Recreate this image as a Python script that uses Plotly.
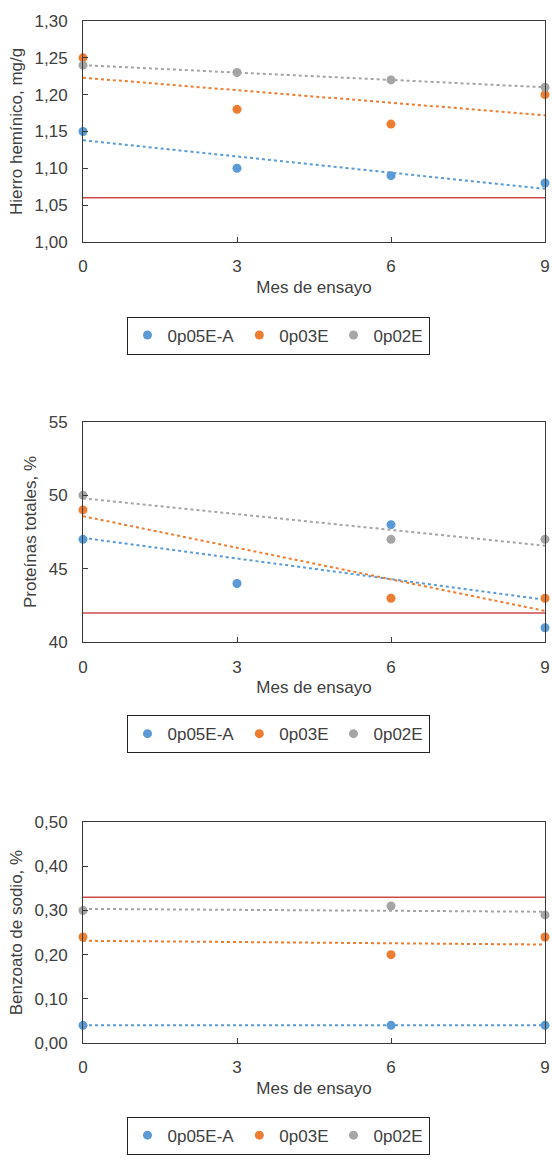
import plotly.graph_objects as go
import numpy as np

# ---------------- data ----------------
series_names = ["0p05E-A", "0p03E", "0p02E"]
series_colors = ["#5B9BD5", "#ED7D31", "#A5A5A5"]
month_ticks = [0, 3, 6, 9]

# Chart 1: Hierro hemínico, mg/g
hierro_x = [[0, 3, 6, 9], [0, 3, 6, 9], [0, 3, 6, 9]]
hierro_0p05EA = [1.15, 1.10, 1.09, 1.08]
hierro_0p03E = [1.25, 1.18, 1.16, 1.20]
hierro_0p02E = [1.24, 1.23, 1.22, 1.21]
hierro_limit = 1.06

# Chart 2: Proteínas totales, %
prot_x = [[0, 3, 6, 9], [0, 6, 9], [0, 6, 9]]
prot_0p05EA = [47, 44, 48, 41]
prot_0p03E = [49, 43, 43]
prot_0p02E = [50, 47, 47]
prot_limit = 42

# Chart 3: Benzoato de sodio, %
benz_x = [[0, 6, 9], [0, 6, 9], [0, 6, 9]]
benz_0p05EA = [0.04, 0.04, 0.04]
benz_0p03E = [0.24, 0.20, 0.24]
benz_0p02E = [0.30, 0.31, 0.29]
benz_limit = 0.33

charts = [
    dict(xs=hierro_x, ys=[hierro_0p05EA, hierro_0p03E, hierro_0p02E], limit=hierro_limit,
         ytitle="Hierro hemínico, mg/g", yrange=[1.0, 1.3], dtick=0.05, fmt=".2f"),
    dict(xs=prot_x, ys=[prot_0p05EA, prot_0p03E, prot_0p02E], limit=prot_limit,
         ytitle="Proteínas totales, %", yrange=[40, 55], dtick=5, fmt="d"),
    dict(xs=benz_x, ys=[benz_0p05EA, benz_0p03E, benz_0p02E], limit=benz_limit,
         ytitle="Benzoato de sodio, %", yrange=[0, 0.5], dtick=0.1, fmt=".2f"),
]

# ---------------- layout geometry ----------------
W, H = 552, 1162
ML, MR, MT, MB = 83, 7, 21, 100
PH = H - MT - MB
plot_h = 225
tops = [21, 429, 837]
legend_tops = [322, 728, 1137]

def py(px):
    return 1 - (px - MT) / PH

TEXT = "#404040"
FONT = "Liberation Sans, Arial, sans-serif"
FS = 17

fig = go.Figure()
x_end = [month_ticks[0], month_ticks[-1]]

for i, ch in enumerate(charts):
    sfx = "" if i == 0 else str(i + 1)
    xa, ya = "x" + sfx, "y" + sfx
    leg = "legend" + sfx
    # trendlines
    for k in range(3):
        m, b = np.polyfit(ch["xs"][k], ch["ys"][k], 1)
        fig.add_trace(go.Scatter(
            x=x_end, y=[b + m * x_end[0], b + m * x_end[1]], mode="lines",
            line=dict(color=series_colors[k], width=2, dash="dot"),
            showlegend=False, hoverinfo="skip", xaxis=xa, yaxis=ya, cliponaxis=False))
    # limit line
    fig.add_trace(go.Scatter(
        x=x_end, y=[ch["limit"], ch["limit"]], mode="lines",
        line=dict(color="#CD4B48", width=1.5), showlegend=False,
        xaxis=xa, yaxis=ya))
    # markers
    for k in range(3):
        fig.add_trace(go.Scatter(
            x=ch["xs"][k], y=ch["ys"][k], mode="markers", name=series_names[k],
            marker=dict(color=series_colors[k], size=9),
            xaxis=xa, yaxis=ya, legend=leg, cliponaxis=False))

    top = tops[i]
    dom = [py(top + plot_h), py(top)]
    axis_common = dict(showline=True, linecolor="#3a3a3a", linewidth=1, mirror=True,
                       ticks="inside", ticklen=5, tickcolor="#3a3a3a",
                       showgrid=False, zeroline=False, automargin=False,
                       tickfont=dict(family=FONT, size=FS, color=TEXT))
    fig.layout["xaxis" + sfx] = dict(
        axis_common, domain=[0, 1], anchor=ya, range=[0, 9], tickvals=month_ticks,
        ticklabelstandoff=9,
        title=dict(text="Mes de ensayo", font=dict(family=FONT, size=FS, color=TEXT), standoff=5))
    fig.layout["yaxis" + sfx] = dict(
        axis_common, domain=dom, anchor=xa, range=ch["yrange"], dtick=ch["dtick"],
        tick0=ch["yrange"][0], tickformat=ch["fmt"], ticklabelstandoff=11,
        title=dict(text=ch["ytitle"], font=dict(family=FONT, size=FS, color=TEXT), standoff=7))
    fig.layout[leg] = dict(
        orientation="h", x=(278 - ML) / (W - ML - MR), xanchor="center",
        y=py(legend_tops[i]), yanchor="top", bordercolor="#222222", borderwidth=1,
        font=dict(family=FONT, size=FS, color=TEXT), itemwidth=30, tracegroupgap=0)

fig.update_layout(
    width=W, height=H, margin=dict(l=ML, r=MR, t=MT, b=MB),
    paper_bgcolor="white", plot_bgcolor="white", separators=",.",
    font=dict(family=FONT, color=TEXT),
)

fig.write_html("out.html")
